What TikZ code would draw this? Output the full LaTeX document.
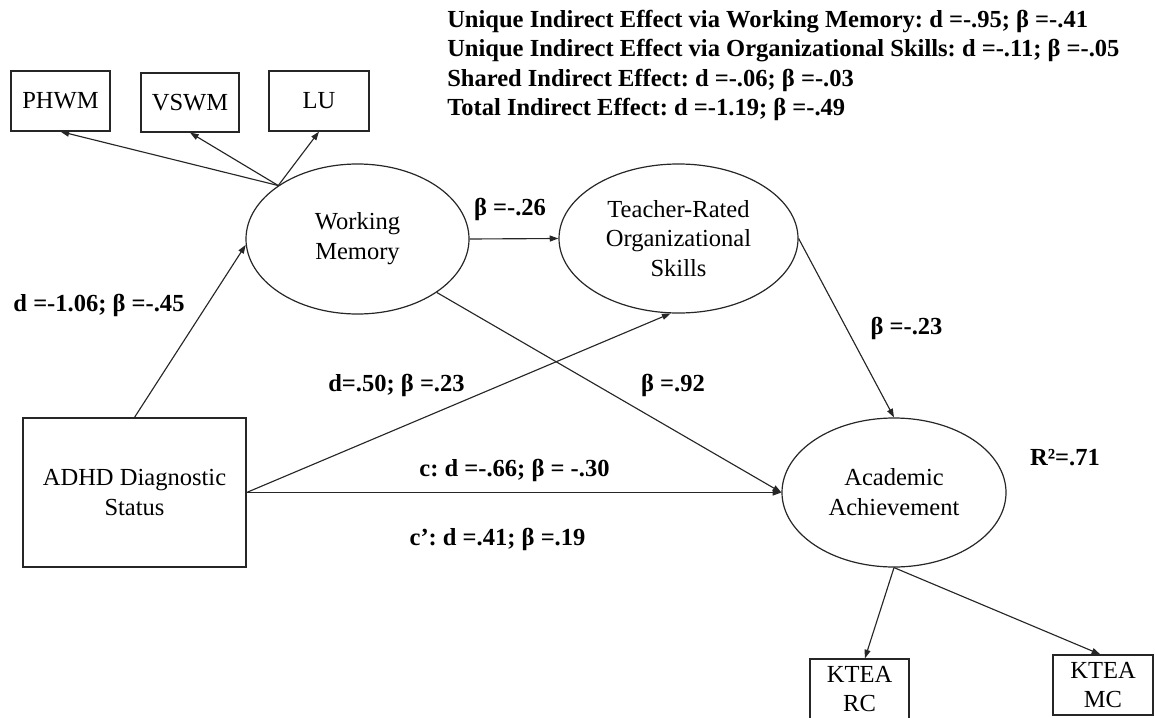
\documentclass[tikz,border=0pt]{standalone}
\usepackage{fontspec}
\setmainfont{Liberation Serif}
\usetikzlibrary{shapes.geometric,arrows.meta}
\frenchspacing
\begin{document}
\begin{tikzpicture}[x=0.75pt,y=-0.75pt,
  lat/.style={draw=black!85,line width=0.9pt,ellipse,inner sep=0pt,align=center,
    font=\fontsize{18.4}{22.4}\selectfont},
  obs/.style={draw=black!85,line width=0.9pt,rectangle,inner sep=0pt,align=center,
    font=\fontsize{18.4}{22.4}\selectfont},
  lbl/.style={font=\fontsize{18.4}{22}\selectfont\bfseries,inner sep=0pt,anchor=base},
  hdr/.style={font=\fontsize{18.4}{22}\selectfont\bfseries,inner sep=0pt,anchor=base west},
  arr/.style={draw=black!85,line width=0.85pt,-{Triangle[length=6.5pt,width=4.5pt]}}]
\useasboundingbox (0,0) rectangle (1155,717);
% header
\node[hdr] (h1) at (447,28) {Unique Indirect Effect via Working Memory: d =-.95; β =-.41};
\node[hdr] (h2) at (447,57) {Unique Indirect Effect via Organizational Skills: d =-.11; β =-.05};
\node[hdr] (h3) at (447,86) {Shared Indirect Effect: d =-.06; β =-.03};
\node[hdr] (h4) at (447,115) {Total Indirect Effect: d =-1.19; β =-.49};
% indicators
\node[obs,minimum width=74.25pt,minimum height=45pt] (phwm) at (60.5,101) {PHWM};
\node[obs,minimum width=73.5pt,minimum height=44.25pt] (vswm) at (190,102.5) {VSWM};
\node[obs,minimum width=75pt,minimum height=45pt] (lu) at (319,101) {LU};
\node[obs,minimum width=74.25pt,minimum height=45pt] (rc) at (859.5,689) {KTEA\\RC};
\node[obs,minimum width=75pt,minimum height=45pt] (mc) at (1103,685) {KTEA\\MC};
% latent / main
\node[lat,minimum width=167.25pt,minimum height=112.5pt] (wm) at (357.5,239) {Working\\Memory};
\node[lat,minimum width=179.25pt,minimum height=111.75pt] (tro) at (678.5,238.5) {Teacher-Rated\\Organizational\\Skills};
\node[lat,minimum width=168pt,minimum height=111.75pt] (aa) at (894,492.5) {Academic\\Achievement};
\node[obs,minimum width=167.25pt,minimum height=111.75pt] (adhd) at (134.5,492.5) {ADHD Diagnostic\\Status};
% connectors
\draw[arr] (wm.146.6) -- (phwm.south);
\draw[arr] (wm.146.6) -- (vswm.south);
\draw[arr] (wm.146.6) -- (lu.south);
\draw[arr] (adhd.north) -- (wm.183);
\draw[arr] (wm.east) -- (tro.west);
\draw[arr] (adhd.east) -- (tro.264);
\draw[arr] (adhd.east) -- (aa.west);
\draw[arr] (wm.-34) -- (aa.west);
\draw[arr] (tro.east) -- (aa.north);
\draw[arr] (aa.south) -- (rc.80);
\draw[arr] (aa.south) -- (mc.95);
% labels
\node[lbl] (l1) at (510,215) {β =-.26};
\node[lbl] (l2) at (99,311) {d =-1.06; β =-.45};
\node[lbl] (l3) at (396.5,391) {d=.50; β =.23};
\node[lbl] (l4) at (673,391) {β =.92};
\node[lbl] (l5) at (514.5,476) {c: d =-.66; β = -.30};
\node[lbl] (l6) at (497.5,545) {c’: d =.41; β =.19};
\node[lbl] (l7) at (906.5,334) {β =-.23};
\node[lbl] (l8) at (1065,465) {R²=.71};
\end{tikzpicture}
\end{document}
